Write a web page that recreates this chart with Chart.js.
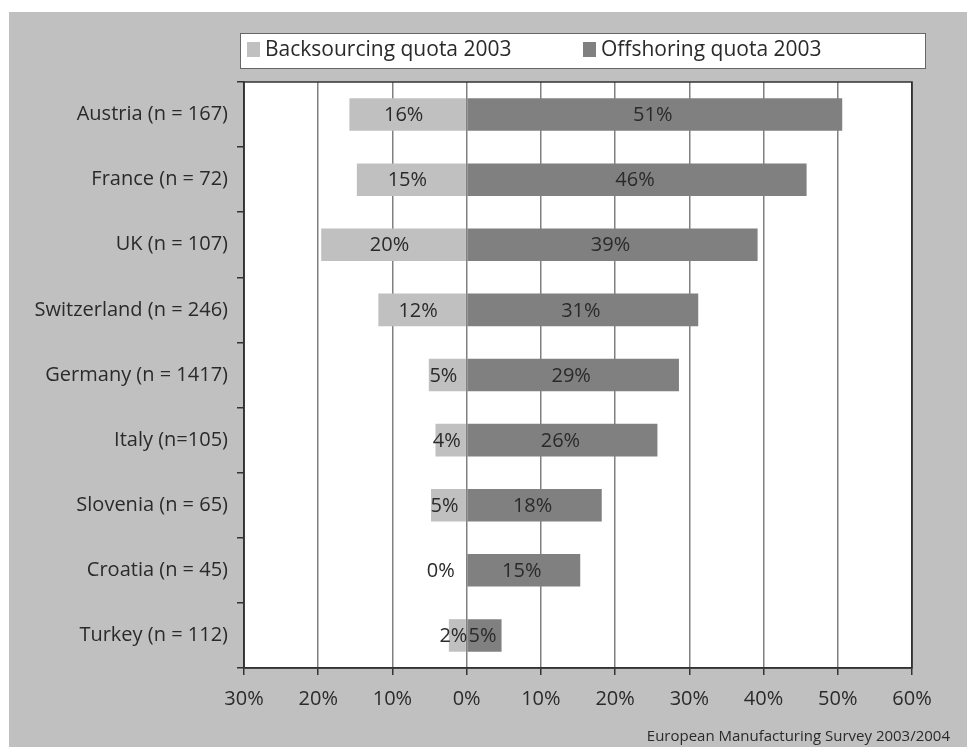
<html>
<head>
<style>
body { margin: 0; background: white; }
canvas { display: block; }
</style>
<script src="https://cdn.jsdelivr.net/npm/chart.js"></script>
</head>
<body>
<canvas id="myChart" width="967" height="747"></canvas>
<script>
// values (percent)
const countries = ['Austria (n = 167)', 'France (n = 72)', 'UK (n = 107)', 'Switzerland (n = 246)',
                   'Germany (n = 1417)', 'Italy (n=105)', 'Slovenia (n = 65)', 'Croatia (n = 45)', 'Turkey (n = 112)'];
const backsourcing = [15.8, 14.8, 19.6, 11.9, 5.1, 4.2, 4.8, 0, 2.4];
const offshoring = [50.6, 45.8, 39.2, 31.2, 28.6, 25.7, 18.2, 15.3, 4.7];
const xTicks = [-30, -20, -10, 0, 10, 20, 30, 40, 50, 60];
const seriesNames = ['Backsourcing quota 2003', 'Offshoring quota 2003'];
const sourceNote = 'European Manufacturing Survey 2003/2004';

const LIGHT = '#c0c0c0';
const DARK = '#808080';
const TEXT = '#2a2a2a';
const FONT = "'Open Sans', sans-serif";

Chart.defaults.font.family = FONT;
Chart.defaults.color = TEXT;

// background, legend box, plot frame, footer, bar labels
const decor = {
  id: 'decor',
  beforeDraw(chart) {
    const ctx = chart.ctx;
    const a = chart.chartArea;
    ctx.save();
    ctx.fillStyle = 'white';
    ctx.fillRect(0, 0, chart.width, chart.height);
    ctx.fillStyle = LIGHT;
    ctx.fillRect(9, 12, chart.width - 9, chart.height - 12);
    ctx.fillStyle = 'white';
    ctx.fillRect(a.left, a.top, a.right - a.left, a.bottom - a.top);

    // legend
    ctx.fillStyle = 'white';
    ctx.fillRect(240, 33, 685, 35);
    ctx.strokeStyle = '#666';
    ctx.lineWidth = 1;
    ctx.strokeRect(240.5, 33.5, 685, 35);
    const xs = [247, 583];
    ctx.font = '21px ' + FONT;
    ctx.textBaseline = 'middle';
    ctx.textAlign = 'left';
    chart.data.datasets.forEach((ds, i) => {
      ctx.fillStyle = ds.backgroundColor;
      ctx.fillRect(xs[i], 42, 13, 15);
      ctx.fillStyle = TEXT;
      ctx.fillText(ds.label, xs[i] + 18, 50);
    });

    // footer
    ctx.font = '15px ' + FONT;
    ctx.textAlign = 'right';
    ctx.textBaseline = 'alphabetic';
    ctx.fillStyle = TEXT;
    ctx.fillText(sourceNote, 950, 741);
    ctx.restore();
  },
  beforeDatasetsDraw(chart) {
    const ctx = chart.ctx;
    const a = chart.chartArea;
    ctx.save();
    ctx.strokeStyle = '#333';
    ctx.lineWidth = 1.5;
    ctx.strokeRect(a.left, a.top, a.right - a.left, a.bottom - a.top);
    ctx.restore();
  },
  afterDatasetsDraw(chart) {
    const ctx = chart.ctx;
    ctx.save();
    ctx.font = '20px ' + FONT;
    ctx.fillStyle = TEXT;
    ctx.textAlign = 'center';
    ctx.textBaseline = 'middle';
    const zero = chart.scales.x.getPixelForValue(0);
    chart.data.datasets.forEach((ds, di) => {
      const meta = chart.getDatasetMeta(di);
      meta.data.forEach((bar, i) => {
        const v = Math.abs(ds.data[i]);
        const txt = Math.round(v) + '%';
        const w = ctx.measureText(txt).width;
        let cx = (bar.x + bar.base) / 2;
        if (di === 0) {
          cx = v === 0 ? zero - w / 2 - 12 : cx - 4;
        } else {
          cx = cx - 2;
        }
        ctx.fillText(txt, cx, bar.y + 1);
      });
    });
    ctx.restore();
  }
};

const config = {
  type: 'bar',
  data: {
    labels: countries,
    datasets: [{
      label: seriesNames[0],
      data: backsourcing.map(v => -v),
      backgroundColor: LIGHT,
      barPercentage: 0.5,
      categoryPercentage: 1
    }, {
      label: seriesNames[1],
      data: offshoring,
      backgroundColor: DARK,
      barPercentage: 0.5,
      categoryPercentage: 1
    }]
  },
  options: {
    indexAxis: 'y',
    responsive: false,
    animation: false,
    devicePixelRatio: 1,
    layout: { padding: { top: 82, right: 55, left: 0, bottom: 0 } },
    plugins: {
      legend: { display: false },
      tooltip: { enabled: false }
    },
    scales: {
      x: {
        stacked: true,
        min: -30,
        max: 60,
        afterBuildTicks(scale) {
          scale.ticks = xTicks.map(v => ({ value: v }));
        },
        afterFit(scale) { scale.height = 79; },
        ticks: {
          font: { size: 20 },
          color: TEXT,
          padding: 12,
          maxRotation: 0,
          callback: v => Math.abs(v) + '%'
        },
        grid: {
          color: c => (c.tick && (c.tick.value === -30 || c.tick.value === 60)) ? '#333' : DARK,
          lineWidth: 1.5,
          tickColor: '#333',
          tickLength: 7
        },
        border: { color: '#333', width: 1.5 }
      },
      y: {
        stacked: true,
        afterFit(scale) { scale.width = 244; },
        ticks: {
          font: { size: 20 },
          color: TEXT,
          padding: 9
        },
        grid: {
          drawOnChartArea: false,
          color: '#333',
          tickLength: 7,
          lineWidth: 1.5
        },
        border: { color: '#333', width: 1.5 }
      }
    }
  },
  plugins: [decor]
};

const myChart = new Chart(document.getElementById('myChart'), config);
</script>
</body>
</html>
